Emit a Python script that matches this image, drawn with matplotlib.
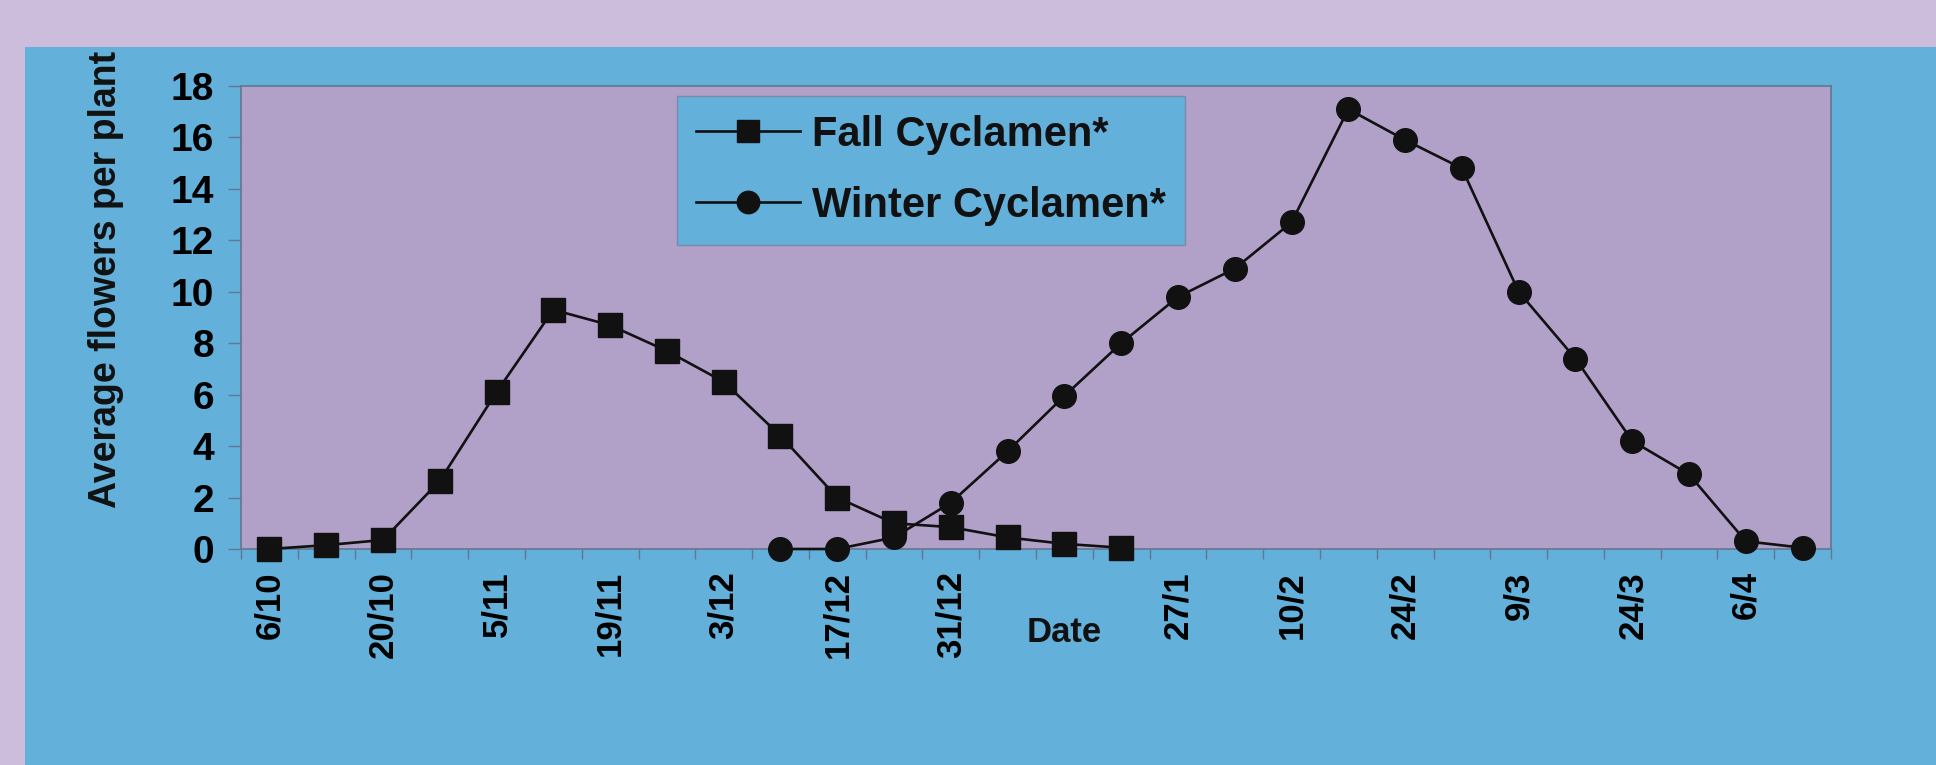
#!/usr/bin/env python3
"""Fall vs Winter cyclamen — average flowers per plant over the season"""
import matplotlib
matplotlib.use("Agg")
import matplotlib.pyplot as plt
from matplotlib.patches import Rectangle

# categories (weekly sampling dates), labels only on every second one
dates = ["6/10", "13/10", "20/10", "27/10", "5/11", "12/11", "19/11", "26/11",
         "3/12", "10/12", "17/12", "24/12", "31/12", "7/1", "14/1", "21/1",
         "27/1", "3/2", "10/2", "17/2", "24/2", "2/3", "9/3", "17/3",
         "24/3", "31/3", "6/4", "13/4"]
tick_labels = ["6/10", "", "20/10", "", "5/11", "", "19/11", "", "3/12", "",
               "17/12", "", "31/12", "", "", "", "27/1", "", "10/2", "",
               "24/2", "", "9/3", "", "24/3", "", "6/4", ""]

fall_idx = list(range(0, 16))
fall_vals = [0.0, 0.15, 0.35, 2.65, 6.1, 9.3, 8.7, 7.7, 6.5, 4.4, 2.0, 1.0,
             0.85, 0.45, 0.2, 0.05]

winter_idx = list(range(9, 28))
winter_vals = [0.0, 0.0, 0.45, 1.8, 3.8, 5.95, 8.0, 9.8, 10.9, 12.7, 17.1,
               15.9, 14.8, 10.0, 7.4, 4.2, 2.9, 0.3, 0.05]

LAVENDER = "#ccbddc"
BLUE = "#63b0db"
PLOT_BG = "#b1a1c9"
EDGE = "#607890"
INK = "#111111"

plt.rcParams["font.family"] = ["Liberation Sans", "DejaVu Sans"]
plt.rcParams["font.weight"] = "bold"

W, H = 1936, 765
fig = plt.figure(figsize=(W / 100, H / 100), dpi=100, facecolor=LAVENDER)
fig.patches.append(Rectangle((25 / W, 0), 1 - 25 / W, 1 - 47 / H,
                             transform=fig.transFigure, facecolor=BLUE,
                             edgecolor="none", zorder=-10))

ax = fig.add_axes([241 / W, 1 - 549 / H, (1831 - 241) / W, (549 - 86) / H])
ax.set_facecolor(PLOT_BG)

ax.plot(fall_idx, fall_vals, "-s", color=INK, lw=1.9, ms=17,
        label="Fall Cyclamen*", zorder=3, clip_on=False)
ax.plot(winter_idx, winter_vals, "-o", color=INK, lw=1.9, ms=17,
        label="Winter Cyclamen*", zorder=3, clip_on=False)

ax.set_xlim(-0.5, len(dates) - 0.5)
ax.set_ylim(0, 18)
ax.set_yticks(range(0, 19, 2))
ax.tick_params(axis="y", labelsize=28, length=9.5, width=1, color=EDGE,
               direction="out", pad=10)

ax.set_xticks(range(len(dates)))
ax.set_xticklabels(tick_labels, rotation=90, fontsize=25, fontweight="bold",
                   va="top", ha="center")
ax.tick_params(axis="x", which="major", length=0, pad=16)
ax.set_xticks([i - 0.5 for i in range(len(dates) + 1)], minor=True)
ax.tick_params(axis="x", which="minor", length=7, width=1, color=EDGE,
               direction="out")
for lbl in ax.get_yticklabels():
    lbl.set_fontweight("bold")

for sp in ax.spines.values():
    sp.set_color(EDGE)
    sp.set_linewidth(1.2)

fig.text(106 / W, 1 - 279 / H, "Average flowers per plant", rotation=90,
         fontsize=27, fontweight="bold", ha="center", va="center", color=INK)
fig.text(1064 / W, 1 - 632 / H, "Date", fontsize=25, fontweight="bold",
         ha="center", va="center", color=INK)

leg = ax.legend(loc="upper left", bbox_to_anchor=(677 / W, 1 - 96 / H),
                bbox_transform=fig.transFigure, borderaxespad=0,
                fontsize=30, frameon=True, fancybox=False, framealpha=1,
                facecolor=BLUE, edgecolor="#7a8aa8", handlelength=2.5,
                handletextpad=0.3, labelspacing=0.75, borderpad=0.45,
                markerscale=0.95)
for t in leg.get_texts():
    t.set_fontweight("bold")
    t.set_color(INK)

fig.savefig("out.png", dpi=100, facecolor=LAVENDER)
